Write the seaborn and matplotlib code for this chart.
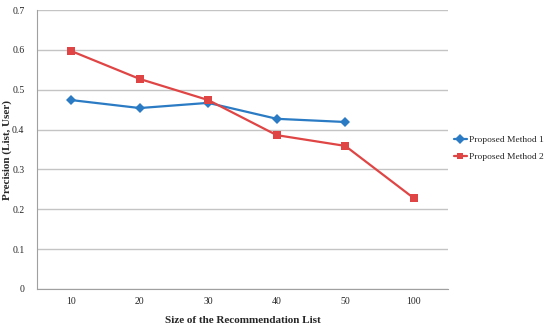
import numpy as np
import pandas as pd
import matplotlib
matplotlib.use("Agg")
import matplotlib.pyplot as plt
import seaborn as sns

list_sizes = ["10", "20", "30", "40", "50", "100"]
method1 = [0.474, 0.454, 0.467, 0.427, 0.419, np.nan]
method2 = [0.597, 0.527, 0.474, 0.386, 0.359, 0.228]

df = pd.DataFrame({
    "pos": list(range(len(list_sizes))) * 2,
    "precision": method1 + method2,
    "method": ["Proposed Method 1"] * len(list_sizes) + ["Proposed Method 2"] * len(list_sizes),
})

sns.set_style("white")
plt.rcParams["font.family"] = ["Liberation Serif", "DejaVu Serif"]

fig = plt.figure(figsize=(5.5, 3.27), dpi=100)
ax = fig.add_axes([37 / 550, 1 - 289 / 327, (448 - 37) / 550, (289 - 10) / 327])

palette = {"Proposed Method 1": "#2A7BC4", "Proposed Method 2": "#E04545"}
sns.lineplot(data=df, x="pos", y="precision", hue="method", style="method",
             markers={"Proposed Method 1": "D", "Proposed Method 2": "s"},
             dashes=False, palette=palette, linewidth=1.6, markersize=6,
             markeredgewidth=0, ax=ax)
# diamond marker a bit smaller than the square
for line in ax.lines[:1]:
    line.set_markersize(5)

ax.set_xlim(-0.5, len(list_sizes) - 0.5)
ax.set_ylim(0, 0.7)
ax.set_yticks(np.arange(0, 0.71, 0.1))
ax.set_yticklabels(["0", "0.1", "0.2", "0.3", "0.4", "0.5", "0.6", "0.7"], fontsize=7)
ax.set_xticks(range(len(list_sizes)))
ax.set_xticklabels(list_sizes, fontsize=7)
ax.set_xticks(np.arange(-0.5, len(list_sizes), 1), minor=True)
ax.tick_params(axis="x", which="major", length=0, pad=6)
ax.tick_params(axis="x", which="minor", length=4, color="#A0A0A0", direction="out")
ax.tick_params(axis="y", length=3, color="#A0A0A0", pad=6)
ax.grid(axis="y", color="#C4C4C4", linewidth=1)
ax.set_axisbelow(True)

for side in ["top", "right"]:
    ax.spines[side].set_visible(False)
for side in ["left", "bottom"]:
    ax.spines[side].set_color("#A0A0A0")
    ax.spines[side].set_linewidth(0.8)

ax.set_xlabel("Size of the Recommendation List", fontsize=8, fontweight="bold", labelpad=7)
ax.set_ylabel("Precision (List, User)", fontsize=8, fontweight="bold")
ax.yaxis.set_label_coords(-0.06, 0.5)

handles, labels = ax.get_legend_handles_labels()
for h in handles:
    h.set_markersize(5)
ax.legend(handles, labels, loc="center left", bbox_to_anchor=(1.0, 0.505),
          frameon=False, fontsize=6.8, handlelength=1.4, handletextpad=0.25,
          labelspacing=0.9, borderaxespad=0.2)

fig.savefig("out.png", dpi=100)
